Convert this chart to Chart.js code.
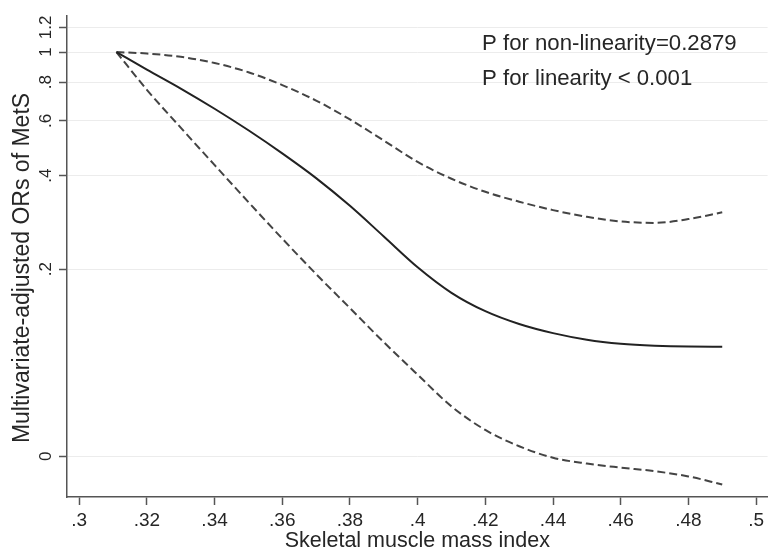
<!DOCTYPE html>
<html lang="en">
<head>
<meta charset="UTF-8">
<title>Skeletal muscle mass index and MetS</title>
<script src="https://cdn.jsdelivr.net/npm/chart.js"></script>
<style>
  body { margin: 0; background: #fff; }
</style>
</head>
<body>
<canvas id="orChart" width="768" height="550"></canvas>
<script>
// values (OR on a log axis)
const smi = [0.311, 0.32, 0.33, 0.34, 0.35, 0.36, 0.37, 0.38, 0.39, 0.40,
             0.41, 0.42, 0.43, 0.44, 0.45, 0.46, 0.47, 0.48, 0.49];
const orEstimate = [1.0, 0.878, 0.763, 0.657, 0.560, 0.472, 0.393, 0.320, 0.255, 0.203,
                    0.168, 0.1466, 0.1333, 0.1246, 0.1187, 0.1152, 0.1135, 0.1128, 0.1127];
const ciUpper = [1.0, 0.989, 0.965, 0.922, 0.861, 0.783, 0.698, 0.607, 0.519, 0.443,
                 0.391, 0.355, 0.330, 0.310, 0.295, 0.285, 0.282, 0.290, 0.305];
const ciLower = [1.0, 0.756, 0.571, 0.433, 0.329, 0.251, 0.193, 0.150, 0.1165, 0.0916,
                 0.0724, 0.0608, 0.0539, 0.0495, 0.0474, 0.0460, 0.0448, 0.0431, 0.0406];

const xTicks = [0.30, 0.32, 0.34, 0.36, 0.38, 0.40, 0.42, 0.44, 0.46, 0.48, 0.50];
const xTickLabels = ['.3', '.32', '.34', '.36', '.38', '.4', '.42', '.44', '.46', '.48', '.5'];
const yTicks = [0.05, 0.2, 0.4, 0.6, 0.8, 1, 1.2];
const yTickLabels = ['0', '.2', '.4', '.6', '.8', '1', '1.2'];

const xTitle = 'Skeletal muscle mass index';
const yTitle = 'Multivariate-adjusted ORs of MetS';
const pNotes = ['P for non-linearity=0.2879', 'P for linearity < 0.001'];

const FONT = '"Liberation Sans", Arial, Helvetica, sans-serif';
const TEXT = '#262626';
const AXIS = '#555555';

function pts(ys) {
    return smi.map((x, i) => ({ x: x, y: ys[i] }));
}

// y tick labels, y title and the P-value notes
const extraText = {
    id: 'extraText',
    afterDraw(chart) {
        const ctx = chart.ctx;
        const yScale = chart.scales.y;
        ctx.save();
        ctx.fillStyle = TEXT;
        ctx.textAlign = 'center';
        ctx.textBaseline = 'alphabetic';
        ctx.font = '17px ' + FONT;
        yTicks.forEach((v, i) => {
            ctx.save();
            ctx.translate(51, yScale.getPixelForValue(v));
            ctx.rotate(-Math.PI / 2);
            ctx.fillText(yTickLabels[i], 0, 0);
            ctx.restore();
        });

        ctx.font = '23px ' + FONT;
        ctx.save();
        ctx.translate(29, 268);
        ctx.rotate(-Math.PI / 2);
        ctx.fillText(yTitle, 0, 0);
        ctx.restore();

        ctx.textAlign = 'left';
        ctx.font = '22.2px ' + FONT;
        ctx.fillText(pNotes[0], 482, 50);
        ctx.fillText(pNotes[1], 482, 85);
        ctx.restore();
    }
};

const ctx = document.getElementById('orChart').getContext('2d');
new Chart(ctx, {
    type: 'line',
    data: {
        datasets: [
            {
                label: 'OR',
                data: pts(orEstimate),
                borderColor: '#222222',
                borderWidth: 2,
                pointRadius: 0,
                cubicInterpolationMode: 'monotone'
            },
            {
                label: 'Upper 95% CI',
                data: pts(ciUpper),
                borderColor: '#444444',
                borderWidth: 2,
                borderDash: [8, 4],
                pointRadius: 0,
                cubicInterpolationMode: 'monotone'
            },
            {
                label: 'Lower 95% CI',
                data: pts(ciLower),
                borderColor: '#444444',
                borderWidth: 2,
                borderDash: [8, 4],
                pointRadius: 0,
                cubicInterpolationMode: 'monotone'
            }
        ]
    },
    options: {
        responsive: false,
        animation: false,
        layout: { padding: { top: 16, right: 0, left: 0, bottom: 0 } },
        plugins: {
            legend: { display: false },
            tooltip: { enabled: false }
        },
        scales: {
            x: {
                type: 'linear',
                min: 0.2964,
                max: 0.5034,
                afterBuildTicks: (scale) => {
                    scale.ticks = xTicks.map(v => ({ value: v }));
                },
                afterFit: (scale) => { scale.height = 53; },
                ticks: {
                    color: TEXT,
                    font: { family: FONT, size: 19 },
                    padding: 4,
                    maxRotation: 0,
                    autoSkip: false,
                    callback: (v) => {
                        const i = xTicks.findIndex(t => Math.abs(t - v) < 1e-9);
                        return i >= 0 ? xTickLabels[i] : '';
                    }
                },
                grid: {
                    drawOnChartArea: false,
                    tickLength: 8,
                    tickColor: AXIS,
                    tickWidth: 1.5
                },
                border: { color: AXIS, width: 1.5 },
                title: {
                    display: true,
                    text: xTitle,
                    color: TEXT,
                    font: { family: FONT, size: 21.5, lineHeight: 0.85 },
                    padding: 0
                }
            },
            y: {
                type: 'logarithmic',
                min: 0.037,
                max: 1.306,
                afterBuildTicks: (scale) => {
                    scale.ticks = yTicks.map(v => ({ value: v }));
                },
                afterFit: (scale) => { scale.width = 67; },
                ticks: { display: false },
                grid: {
                    color: '#ececec',
                    lineWidth: 1,
                    tickLength: 8,
                    tickColor: AXIS,
                    tickWidth: 1.5
                },
                border: { color: AXIS, width: 1.5 }
            }
        }
    },
    plugins: [extraText]
});
</script>
</body>
</html>
